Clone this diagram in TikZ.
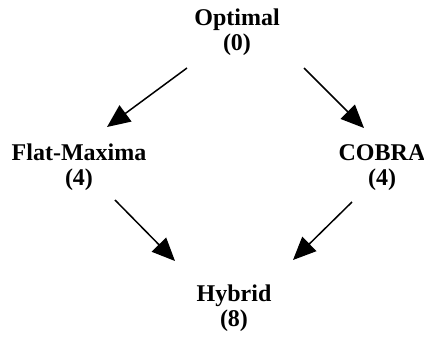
\documentclass[tikz,border=0pt]{standalone}
\usepackage{fontspec}
\setmainfont{Liberation Serif}
\usetikzlibrary{arrows.meta}
\begin{document}
\begin{tikzpicture}[x=1pt,y=-1pt,
  lbl/.style={font=\fontsize{24}{25}\selectfont\bfseries, align=center, inner sep=0pt, anchor=base},
  arr/.style={line width=1.5pt, -{Triangle[length=23pt,width=20pt]}}]
\useasboundingbox (0,0) rectangle (424,343);
\node[lbl] (opt) at (237,50) {Optimal\\(0)};
\node[lbl] (flat) at (79,185) {Flat-Maxima\\(4)};
\node[lbl] (cobra) at (382,185) {COBRA\\(4)};
\node[lbl] (hyb) at (234,326) {Hybrid\\(8)};
\coordinate (a1s) at (187,68);  \coordinate (a1e) at (107,127);
\coordinate (a2s) at (304,68);  \coordinate (a2e) at (364,128);
\coordinate (a3s) at (115,200); \coordinate (a3e) at (175,261);
\coordinate (a4s) at (352,202); \coordinate (a4e) at (293,260);
\draw[arr] (a1s) -- (a1e);
\draw[arr] (a2s) -- (a2e);
\draw[arr] (a3s) -- (a3e);
\draw[arr] (a4s) -- (a4e);
\end{tikzpicture}
\end{document}
